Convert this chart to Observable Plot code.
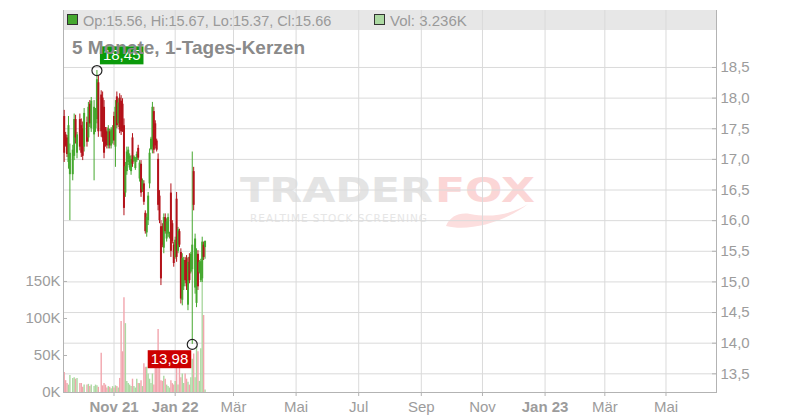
<!DOCTYPE html>
<html>
<head>
<meta charset="utf-8">
<script src="https://cdn.jsdelivr.net/npm/d3@7"></script>
<script src="https://cdn.jsdelivr.net/npm/@observablehq/plot@0.6"></script>
<style>
  html, body { margin:0; padding:0; background:#fff; }
  #chart { position:relative; width:800px; height:420px; overflow:hidden; }
  #chart svg { position:absolute; left:0; top:0; max-width:none; }
</style>
</head>
<body>
<div id="chart"></div>
<script>
// ---------- data ----------
const dates = [
  "2021-09-13","2021-09-14","2021-09-15","2021-09-16","2021-09-17","2021-09-21","2021-09-22","2021-09-23","2021-09-24","2021-09-28",
  "2021-09-29","2021-09-30","2021-10-01","2021-10-05","2021-10-06","2021-10-07","2021-10-08","2021-10-12","2021-10-13","2021-10-14",
  "2021-10-15","2021-10-19","2021-10-20","2021-10-21","2021-10-22","2021-10-25","2021-10-26","2021-10-27","2021-10-28","2021-10-29",
  "2021-11-01","2021-11-02","2021-11-03","2021-11-04","2021-11-05","2021-11-08","2021-11-09","2021-11-10","2021-11-11","2021-11-12",
  "2021-11-15","2021-11-16","2021-11-17","2021-11-18","2021-11-19","2021-11-22","2021-11-23","2021-11-24","2021-11-25","2021-11-26",
  "2021-11-29","2021-11-30","2021-12-01","2021-12-02","2021-12-03","2021-12-06","2021-12-07","2021-12-08","2021-12-09","2021-12-10",
  "2021-12-13","2021-12-14","2021-12-15","2021-12-16","2021-12-17","2021-12-20","2021-12-21","2021-12-22","2021-12-23","2021-12-27",
  "2021-12-28","2021-12-29","2021-12-30","2022-01-03","2022-01-04","2022-01-05","2022-01-06","2022-01-07","2022-01-10","2022-01-11",
  "2022-01-12","2022-01-13","2022-01-14","2022-01-17","2022-01-18","2022-01-19","2022-01-20","2022-01-21","2022-01-24","2022-01-25",
  "2022-01-26","2022-01-27","2022-01-28","2022-01-31","2022-02-01"
];
const holidays = ["2021-12-24", "2021-12-31"];
const open = [
  17.70,17.40,17.35,16.95,16.75,16.75,17.05,17.65,17.10,17.65,
  17.55,17.50,17.20,17.60,17.35,17.90,17.50,17.40,17.50,17.65,
  18.25,18.05,18.00,17.85,17.48,17.45,17.22,17.45,17.22,17.30,
  17.70,17.20,18.02,17.58,18.00,17.95,17.90,17.55,16.45,16.80,
  16.95,16.86,16.80,17.35,16.97,16.85,16.98,17.18,16.68,16.92,
  16.50,16.60,16.12,15.80,16.00,16.60,17.16,17.20,17.78,17.58,
  17.30,17.00,16.40,15.90,15.90,15.55,16.05,15.70,15.78,15.72,
  16.45,15.95,15.60,15.40,16.35,15.50,15.82,15.48,14.70,14.92,
  15.35,15.38,14.62,15.40,15.16,15.20,16.80,14.90,14.65,15.45,
  15.15,15.02,15.05,15.60,15.56
];
const high = [
  17.80,17.44,17.39,17.70,17.25,17.23,17.74,17.72,17.44,17.74,
  17.66,17.61,17.83,17.69,17.93,17.96,18.01,17.96,17.83,18.45,
  18.37,18.12,18.10,17.96,17.52,17.52,17.55,17.49,17.52,17.55,
  17.77,17.96,18.10,17.99,18.07,18.04,17.99,17.66,16.95,17.20,
  17.20,17.09,17.06,17.42,17.06,17.03,17.12,17.23,16.98,16.98,
  16.68,16.65,16.16,16.11,16.46,17.17,17.36,17.93,17.85,17.63,
  17.33,17.09,16.49,16.00,15.95,16.11,16.11,16.03,16.11,15.81,
  16.60,16.00,15.65,15.73,16.46,15.89,15.86,15.54,15.46,15.40,
  15.40,15.43,15.40,15.46,15.48,17.12,16.87,15.78,15.54,15.51,
  15.35,15.37,15.73,15.65,15.67
];
const low = [
  16.95,17.20,17.03,16.84,16.00,16.65,16.98,17.25,17.01,17.14,
  17.03,16.98,17.12,17.20,17.28,17.52,17.44,16.65,17.44,17.58,
  17.36,17.36,17.28,17.01,17.20,17.17,17.17,17.17,17.17,17.25,
  17.23,16.87,17.50,17.52,17.42,17.39,17.44,16.08,16.38,16.74,
  16.90,16.82,16.74,16.87,16.95,16.82,16.95,16.98,16.63,16.38,
  16.46,16.25,15.78,15.73,15.92,16.52,17.14,17.09,17.09,17.17,
  17.12,16.16,15.95,14.94,15.56,15.46,15.78,15.65,15.73,15.70,
  15.40,15.62,15.24,15.37,15.32,15.46,15.56,14.64,14.61,14.86,
  14.97,14.86,14.53,14.97,15.13,13.98,16.16,14.80,14.58,14.86,
  15.13,14.99,14.99,15.35,15.37
];
const close = [
  17.10,17.22,17.08,17.55,17.10,17.15,17.65,17.35,17.40,17.20,
  17.10,17.05,17.75,17.28,17.85,17.58,17.95,17.85,17.78,18.30,
  17.45,17.45,17.35,17.10,17.25,17.22,17.50,17.22,17.48,17.50,
  17.30,17.85,17.55,17.92,17.48,17.45,17.50,16.20,16.88,17.12,
  17.15,17.05,17.00,16.92,17.04,17.00,17.08,17.02,16.94,16.45,
  16.65,16.30,15.82,16.05,16.40,17.10,17.33,17.85,17.15,17.22,
  17.15,16.25,16.00,15.05,15.60,16.05,15.82,15.98,16.05,15.79,
  15.50,15.66,15.30,15.68,15.40,15.85,15.60,14.72,15.38,15.35,
  15.02,14.92,15.32,15.02,15.45,15.60,16.25,15.70,15.45,14.92,
  15.32,15.33,15.65,15.40,15.66
];
const volume = [
  27000,16000,12000,10000,23000,19000,20000,18000,19000,12000,
  12000,7000,10000,10000,11000,8000,10000,8000,10000,9000,
  7000,53000,9000,12000,10000,6000,8000,7000,5000,8000,
  6000,9000,8000,6000,19000,96000,55000,128000,93000,15000,
  12000,10000,8000,18000,8000,6000,18000,12000,12000,16000,
  8000,39000,34000,34000,25000,18000,12000,25000,10000,34000,
  36000,85000,39000,16000,15000,22000,18000,10000,8000,6000,
  16000,12000,10000,15000,53000,10000,33000,20000,25000,12000,
  25000,18000,14000,10000,20000,45000,52000,20000,62000,55000,
  15000,59000,160000,104000,3236
];
const priceTicks = [13.5, 14.0, 14.5, 15.0, 15.5, 16.0, 16.5, 17.0, 17.5, 18.0, 18.5];
const volumeTicks = [0, 50000, 100000, 150000];
const monthTicks = ["2021-11-01","2022-01-03","2022-03-01","2022-05-02","2022-07-01","2022-09-01","2022-11-01","2023-01-02","2023-03-01","2023-05-01"];
const monthLabels = ["Nov 21","Jan 22","Mär","Mai","Jul","Sep","Nov","Jan 23","Mär","Mai"];
const boldLabels = ["Nov 21","Jan 22","Jan 23"];
const titleText = "5 Monate, 1-Tages-Kerzen";

// ---------- setup ----------
const FONT = '"Liberation Sans", Arial, Helvetica, sans-serif';
const W = 800, H = 420;
const M = {marginLeft: 63, marginRight: 84, marginTop: 10, marginBottom: 28};
const UP = "#45a82f", DOWN = "#b3121a", VOL_UP = "#acd9a2", VOL_DOWN = "#f2a5ad";
const AXIS_TEXT = "#9c9c9c", AXIS_LINE = "#b3b3b3", GRID = "#dadada";

// trading-day (ordinal) time axis: weekdays without exchange holidays
const fmtDay = d3.utcFormat("%Y-%m-%d");
const axisDays = d3.utcDay.range(new Date("2021-09-13"), new Date("2023-06-20"))
  .filter(d => d.getUTCDay() !== 0 && d.getUTCDay() !== 6)
  .map(fmtDay)
  .filter(d => !holidays.includes(d));

const rows = dates.map((d, i) => ({
  date: d, open: open[i], high: high[i], low: low[i], close: close[i],
  volume: volume[i], up: close[i] >= open[i]
}));
const maxRow = rows[d3.maxIndex(rows, d => d.high)];
const minRow = rows[d3.minIndex(rows, d => d.low)];
const last = rows[rows.length - 1];
const labelOf = new Map(monthTicks.map((t, i) => [t, monthLabels[i]]));
const boldTicks = monthTicks.filter(t => boldLabels.includes(labelOf.get(t)));
const normalTicks = monthTicks.filter(t => !boldLabels.includes(labelOf.get(t)));
const comma = v => v.toFixed(2).replace(".", ",");

const xScale = {type: "point", domain: axisDays, axis: null, label: null};
const yPrice = {domain: [13.195, 19.43], axis: null, label: null};
const yVol = {domain: [0, 516000], axis: null, label: null};
const baseStyle = {background: "transparent", fontFamily: FONT, fontSize: "15px", color: AXIS_TEXT, overflow: "visible"};
const chart = document.getElementById("chart");
const NS = "http://www.w3.org/2000/svg";

// ---------- layer 1: watermark, header bar, grid ----------
const gridLayer = Plot.plot({
  width: W, height: H, ...M, x: xScale, y: yPrice, style: baseStyle,
  marks: [
    Plot.ruleY(priceTicks, {y: d => d, stroke: GRID, strokeWidth: 1}),
    Plot.ruleX(monthTicks, {x: d => d, stroke: GRID, strokeWidth: 1})
  ]
});
chart.appendChild(gridLayer);
{
  const svg = d3.select(gridLayer);
  const bg = svg.insert("g", ":first-child").attr("text-anchor", "start");
  bg.append("rect").attr("x", M.marginLeft).attr("y", 10).attr("width", W - M.marginLeft - M.marginRight)
    .attr("height", 20).attr("fill", "#e7e7e7");
  const wm = bg.append("g").attr("font-family", '"DejaVu Sans", sans-serif').attr("font-weight", "bold");
  wm.append("text").attr("x", 240).attr("y", 202).attr("font-size", 34).attr("fill", "#e4e4e4")
    .attr("text-anchor", "start").attr("textLength", 193).attr("lengthAdjust", "spacingAndGlyphs").text("TRADER");
  wm.append("text").attr("x", 435).attr("y", 202).attr("font-size", 34).attr("fill", "#fbd6d6")
    .attr("text-anchor", "start").attr("textLength", 100).attr("lengthAdjust", "spacingAndGlyphs").text("FOX");
  wm.append("path").attr("d", "M446,226 C470,232 505,222 528,204 C512,214 492,218 470,214 C460,212 450,216 446,226 Z")
    .attr("fill", "#fcdede");
  wm.append("text").attr("x", 250).attr("y", 222).attr("font-size", 10.5).attr("font-weight", "normal")
    .attr("text-anchor", "start").attr("fill", "#e6e6e6").attr("textLength", 177).attr("lengthAdjust", "spacing")
    .text("REALTIME STOCK SCREENING");
}

// ---------- layer 2: volume ----------
const volLayer = Plot.plot({
  width: W, height: H, ...M, x: xScale, y: yVol, style: baseStyle,
  marks: [
    Plot.ruleX(rows, {x: "date", y1: 0, y2: "volume", stroke: d => d.up ? VOL_UP : VOL_DOWN, strokeWidth: 1.4}),
    Plot.tickY(volumeTicks, {y: d => d, stroke: AXIS_LINE, insetRight: W - M.marginLeft - M.marginRight - 4}),
    Plot.axisY(volumeTicks, {anchor: "left", tickSize: 0, tickPadding: 3, label: null,
      tickFormat: d => (d / 1000) + "K", fill: AXIS_TEXT, fontSize: 15}),
    Plot.frame({anchor: "left", stroke: AXIS_LINE})
  ]
});
chart.appendChild(volLayer);

// ---------- layer 3: candles, axes, annotations ----------
const priceLayer = Plot.plot({
  width: W, height: H, ...M, x: xScale, y: yPrice, style: baseStyle,
  marks: [
    Plot.ruleX(rows, {x: "date", y1: "low", y2: "high", stroke: d => d.up ? UP : DOWN, strokeWidth: 1}),
    Plot.ruleX(rows, {x: "date", y1: "open", y2: "close", stroke: d => d.up ? UP : DOWN, strokeWidth: 2}),
    Plot.frame({anchor: "right", stroke: AXIS_LINE}),
    Plot.frame({anchor: "bottom", stroke: AXIS_LINE}),
    Plot.tickY(priceTicks, {y: d => d, stroke: AXIS_LINE, insetLeft: W - M.marginLeft - M.marginRight - 4}),
    Plot.axisY(priceTicks, {anchor: "right", tickSize: 0, tickPadding: 4, label: null,
      tickFormat: d => d.toFixed(1).replace(".", ","), fill: AXIS_TEXT, fontSize: 15}),
    Plot.axisX(boldTicks, {anchor: "bottom", tickSize: 4, tickPadding: 5, label: null, stroke: AXIS_LINE,
      tickFormat: d => labelOf.get(d), fill: AXIS_TEXT, fontSize: 15, fontWeight: "bold"}),
    Plot.axisX(normalTicks, {anchor: "bottom", tickSize: 4, tickPadding: 5, label: null, stroke: AXIS_LINE,
      tickFormat: d => labelOf.get(d), fill: AXIS_TEXT, fontSize: 15}),
    Plot.text([maxRow], {x: "date", y: "high", text: d => comma(d.high), textAnchor: "start",
      dx: 6, dy: -15, fill: "white", fontSize: 15}),
    Plot.text([minRow], {x: "date", y: "low", text: d => comma(d.low), textAnchor: "end",
      dx: -4, dy: 15, fill: "white", fontSize: 15}),
    Plot.dot([maxRow], {x: "date", y: "high", r: 5, stroke: "#222", fill: "none", strokeWidth: 1.2}),
    Plot.dot([minRow], {x: "date", y: "low", r: 5, stroke: "#222", fill: "none", strokeWidth: 1.2})
  ]
});
chart.appendChild(priceLayer);
{
  const groups = priceLayer.querySelectorAll('g[aria-label="text"]');
  [[groups[0], "#0b9a0b"], [groups[1], "#cc0000"]].forEach(([g, fill]) => {
    if (!g) return;
    g.querySelectorAll("text").forEach(t => {
      const b = t.getBBox();
      const r = document.createElementNS(NS, "rect");
      r.setAttribute("x", b.x - 3);
      r.setAttribute("y", b.y);
      r.setAttribute("width", b.width + 6);
      r.setAttribute("height", b.height + 1);
      r.setAttribute("fill", fill);
      if (t.getAttribute("transform")) r.setAttribute("transform", t.getAttribute("transform"));
      t.parentNode.insertBefore(r, t);
    });
  });
  const svg = d3.select(priceLayer);
  svg.append("text").attr("x", 72).attr("y", 54).attr("text-anchor", "start").attr("font-family", FONT)
    .attr("font-weight", "bold").attr("font-size", 19).attr("fill", "#8a8a8a").text(titleText);
  const lg = svg.append("g").attr("font-family", FONT).attr("font-size", 15).attr("fill", "#9a9a9a")
    .attr("text-anchor", "start");
  lg.append("rect").attr("x", 67.5).attr("y", 14.5).attr("width", 10).attr("height", 10)
    .attr("fill", UP).attr("stroke", "#333").attr("stroke-width", 1);
  lg.append("text").attr("x", 83).attr("y", 25.5).attr("font-size", 14.5)
    .text(`Op:${last.open.toFixed(2)}, Hi:${last.high.toFixed(2)}, Lo:${last.low.toFixed(2)}, Cl:${last.close.toFixed(2)}`);
  lg.append("rect").attr("x", 374.5).attr("y", 14.5).attr("width", 10).attr("height", 10)
    .attr("fill", VOL_UP).attr("stroke", "#333").attr("stroke-width", 1);
  lg.append("text").attr("x", 390).attr("y", 25.5).text(`Vol: ${(last.volume / 1000).toFixed(3)}K`);
}
</script>
</body>
</html>
